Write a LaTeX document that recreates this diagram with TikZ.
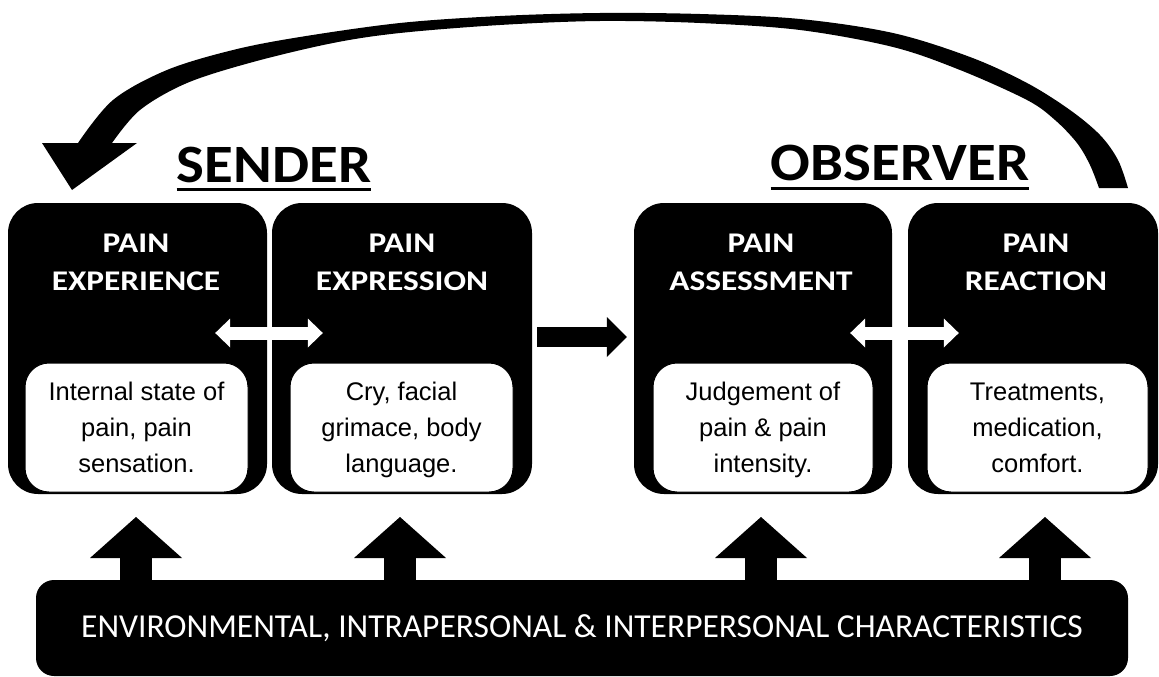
\documentclass[tikz,border=0pt]{standalone}
\usepackage{fontspec}
\setmainfont{Liberation Sans}
\newfontfamily\boxheadfont{Carlito}[FakeStretch=1.17]
\newfontfamily\titlefont{Carlito}[FakeStretch=1.09]
\newfontfamily\barfont{Carlito}
\usetikzlibrary{arrows.meta}
\begin{document}
\begin{tikzpicture}[x=1pt,y=-1pt,
  outerbox/.style={fill=black, rounded corners=30pt, inner sep=0pt},
  innerbox/.style={fill=white, draw=black, line width=1pt, rounded corners=24pt, inner sep=0pt,
    minimum height=129pt, align=center, text depth=0pt, font=\fontsize{25.5}{36}\selectfont},
  headtxt/.style={text=white, align=center, inner sep=0pt, anchor=base,
    font=\boxheadfont\bfseries\fontsize{28.5}{38}\selectfont},
  titletxt/.style={inner sep=0pt, anchor=base, font=\titlefont\bfseries\fontsize{54}{60}\selectfont},
  whitearrow/.style={draw=white, line width=13pt,
    {Triangle[length=15pt,width=29pt,line width=0pt]}-{Triangle[length=15pt,width=29pt,line width=0pt]}},
  blackarrow/.style={draw=black, line width=20pt, -{Triangle[length=20pt,width=40pt,line width=0pt]}},
  uparrow/.style={draw=black, line width=32pt, -{Triangle[length=41pt,width=92pt,line width=0pt]}},
  barbox/.style={fill=black, rounded corners=18pt, text=white, inner sep=0pt,
    font=\barfont\fontsize{33.5}{40}\selectfont}
]
\useasboundingbox (0,0) rectangle (1159,677);

% feedback arrow
\fill[black] (42,143) -- (78,143)
  -- plot[smooth, tension=0.55] coordinates {(78,143) (113,100) (167,70) (233,50) (300,37) (400,23) (500,16) (600,13) (700,14) (800,19) (893,33) (970,57) (1027,83) (1070,110) (1100,135) (1118,160) (1128,188)}
  -- (1099,188)
  -- plot[smooth, tension=0.55] coordinates {(1099,188) (1090,165) (1077,143) (1055,120) (1027,100) (960,70) (893,47) (800,30) (700,23) (600,21) (500,25) (400,33) (333,43) (253,62) (187,83) (140,110) (112,143)}
  -- (137,143) -- (72,190) -- cycle;

% titles
\node[titletxt] (sender) at (274,182) {SENDER};
\node[titletxt] (observer) at (900,180) {OBSERVER};
\draw[line width=3pt] ([yshift=-7.5pt]sender.base west) -- ([yshift=-7.5pt]sender.base east);
\draw[line width=3pt] ([yshift=-8pt]observer.base west) -- ([yshift=-8pt]observer.base east);

% outer boxes
\node[outerbox, minimum width=259pt, minimum height=291pt] (exp) at (137.5,348.5) {};
\node[outerbox, minimum width=260pt, minimum height=291pt] (expr) at (402,348.5) {};
\node[outerbox, minimum width=258pt, minimum height=291pt] (ass) at (763,348.5) {};
\node[outerbox, minimum width=250pt, minimum height=291pt] (reac) at (1033,348.5) {};

% headings (anchor base = baseline of the last line)
\node[headtxt] (expH) at (136,290) {PAIN\\EXPERIENCE};
\node[headtxt] (exprH) at (402,290) {PAIN\\EXPRESSION};
\node[headtxt] (assH) at (761,290) {PAIN\\ASSESSMENT};
\node[headtxt] (reacH) at (1036,290) {PAIN\\REACTION};

% inner boxes
\node[innerbox, minimum width=223pt] (expI) at (136.5,427.5) {Internal state of\\pain, pain\\sensation.};
\node[innerbox, minimum width=223pt] (exprI) at (401.5,427.5) {Cry, facial\\grimace, body\\language.};
\node[innerbox, minimum width=220pt] (assI) at (763,427.5) {Judgement of\\pain \& pain\\intensity.};
\node[innerbox, minimum width=221pt] (reacI) at (1037.5,427.5) {Treatments,\\medication,\\comfort.};

% horizontal connectors
\draw[whitearrow] ([shift={(-52,-15.5)}]exp.east) -- ([shift={(51,-15.5)}]expr.west);
\draw[blackarrow] ([shift={(5,-11.5)}]expr.east) -- ([shift={(-7,-11.5)}]ass.west);
\draw[whitearrow] ([shift={(-42,-15.5)}]ass.east) -- ([shift={(51,-15.5)}]reac.west);

% bottom bar
\node[barbox, minimum width=1092pt, minimum height=96pt] (bar) at (582,628)
  {ENVIRONMENTAL, INTRAPERSONAL \& INTERPERSONAL CHARACTERISTICS};

% up arrows
\coordinate (t1) at (136,517);
\coordinate (t2) at (400,517);
\coordinate (t3) at (761,517);
\coordinate (t4) at (1045,517);
\foreach \t in {t1,t2,t3,t4}
  \draw[uparrow] ([yshift=-5pt]\t |- bar.north) -- (\t);
\end{tikzpicture}
\end{document}
